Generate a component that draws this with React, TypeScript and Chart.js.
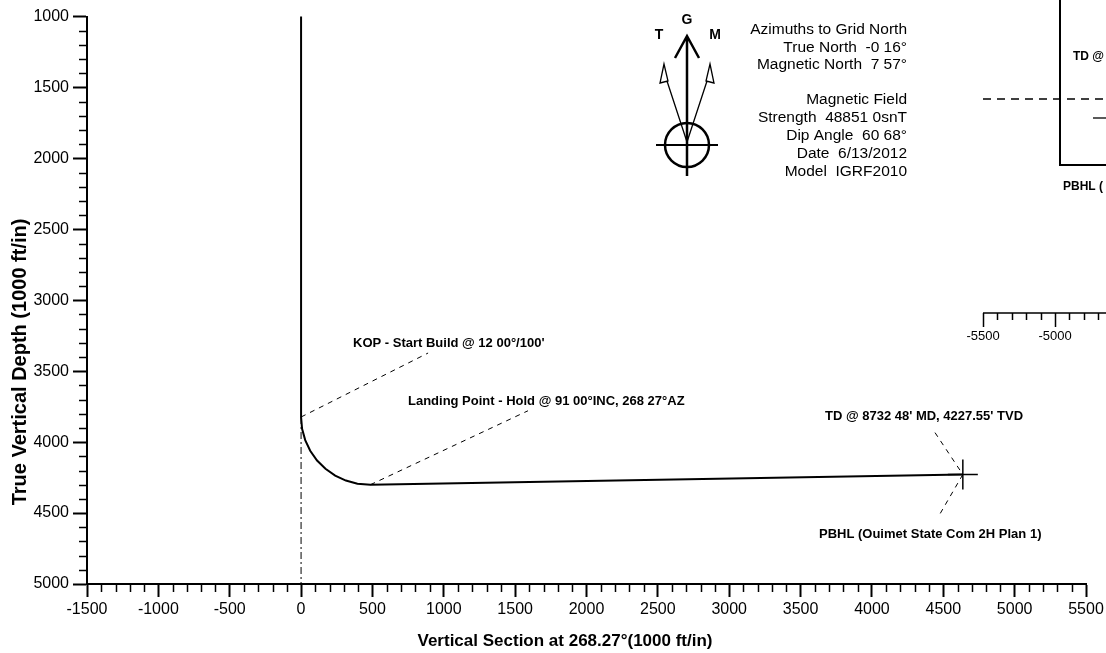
import React, { useEffect, useRef } from "react";
import { Chart, registerables } from "chart.js";

Chart.register(...registerables);

const FONT = '"Liberation Sans", Arial, Helvetica, sans-serif';

// ---- data (vertical section ft, true vertical depth ft) ----
const wellVS = [0, 0, 7, 29, 64, 112, 171, 239, 314, 395, 486, 4637];
const wellTVD = [0, 3823, 3906, 3986, 4061, 4130, 4188, 4236, 4271, 4293, 4300, 4228];

const plumbVS = [0, 0];
const plumbTVD = [3823, 5000];

const kopPoint = [0, 3823];
const landingPoint = [486, 4300];
const tdPoint = [4637, 4228];

// leader ends (data coords)
const leaderFromVS = [kopPoint[0], landingPoint[0], 4442, tdPoint[0]];
const leaderFromTVD = [kopPoint[1], landingPoint[1], 3933, tdPoint[1]];
const leaderToVS = [890, 1590, tdPoint[0], 4463];
const leaderToTVD = [3372, 3779, tdPoint[1], 4530];

const calloutTexts = [
  "KOP - Start Build @ 12 00°/100'",
  "Landing Point - Hold @ 91 00°INC, 268 27°AZ",
  "TD @ 8732 48' MD, 4227.55' TVD",
  "PBHL (Ouimet State Com 2H Plan 1)",
];
const calloutVS = [364, 749, 3671, 3629];
const calloutTVD = [3305, 3714, 3819, 4649];

const xMin = -1500;
const xMax = 5500;
const yMin = 1000;
const yMax = 5000;
const majorStep = 500;
const minorStep = 100;

const xTitle = "Vertical Section at 268.27°(1000 ft/in)";
const yTitle = "True Vertical Depth (1000 ft/in)";

const infoLines = [
  "Azimuths to Grid North",
  "True North  -0 16°",
  "Magnetic North  7 57°",
  "",
  "Magnetic Field",
  "Strength  48851 0snT",
  "Dip Angle  60 68°",
  "Date  6/13/2012",
  "Model  IGRF2010",
];

const insetTickLabels = ["-5500", "-5000"];

function pts(xs: number[], ys: number[]) {
  return xs.map((x, i) => ({ x, y: ys[i] }));
}

const decor = {
  id: "decor",
  afterDraw(chart: any) {
    const ctx: CanvasRenderingContext2D = chart.ctx;
    const xs = chart.scales.x;
    const ys = chart.scales.y;
    const area = chart.chartArea;
    ctx.save();
    ctx.strokeStyle = "#000";
    ctx.fillStyle = "#000";

    // minor ticks
    ctx.lineWidth = 1.5;
    ctx.beginPath();
    for (let v = xMin; v <= xMax; v += minorStep) {
      if (v % majorStep === 0) continue;
      const px = Math.round(xs.getPixelForValue(v)) + 0.5;
      ctx.moveTo(px, area.bottom);
      ctx.lineTo(px, area.bottom + 8);
    }
    for (let v = yMin; v <= yMax; v += minorStep) {
      if (v % majorStep === 0) continue;
      const py = Math.round(ys.getPixelForValue(v)) + 0.5;
      ctx.moveTo(area.left, py);
      ctx.lineTo(area.left - 8, py);
    }
    ctx.stroke();

    // axis titles
    ctx.font = `bold 17px ${FONT}`;
    ctx.textAlign = "center";
    ctx.textBaseline = "middle";
    ctx.fillText(xTitle, 565, 641);
    ctx.save();
    ctx.font = `bold 20px ${FONT}`;
    ctx.translate(20, 362);
    ctx.rotate(-Math.PI / 2);
    ctx.fillText(yTitle, 0, 0);
    ctx.restore();

    // callouts
    ctx.font = `bold 13px ${FONT}`;
    ctx.textAlign = "left";
    calloutTexts.forEach((t, i) => {
      ctx.fillText(t, xs.getPixelForValue(calloutVS[i]), ys.getPixelForValue(calloutTVD[i]));
    });

    // compass
    const cx = 687;
    ctx.lineWidth = 2.5;
    ctx.beginPath();
    ctx.moveTo(cx, 36);
    ctx.lineTo(cx, 176);
    ctx.moveTo(cx - 12, 58);
    ctx.lineTo(cx, 36);
    ctx.lineTo(cx + 12, 58);
    ctx.stroke();
    ctx.beginPath();
    ctx.arc(cx, 145, 22, 0, Math.PI * 2);
    ctx.stroke();
    ctx.lineWidth = 2;
    ctx.beginPath();
    ctx.moveTo(656, 145);
    ctx.lineTo(718, 145);
    ctx.stroke();
    ctx.lineWidth = 1.3;
    ctx.beginPath();
    ctx.moveTo(664, 64);
    ctx.lineTo(660, 83);
    ctx.lineTo(668, 81);
    ctx.closePath();
    ctx.moveTo(667, 81);
    ctx.lineTo(cx, 142);
    ctx.moveTo(710, 64);
    ctx.lineTo(714, 83);
    ctx.lineTo(706, 81);
    ctx.closePath();
    ctx.moveTo(707, 81);
    ctx.lineTo(cx, 142);
    ctx.stroke();
    ctx.font = `bold 14px ${FONT}`;
    ctx.textAlign = "center";
    ctx.fillText("T", 659, 35);
    ctx.fillText("G", 687, 20);
    ctx.fillText("M", 715, 35);

    // info block
    ctx.font = `15.5px ${FONT}`;
    ctx.textAlign = "right";
    const lineY = [30, 48, 65, 83, 100, 118, 136, 154, 172];
    infoLines.forEach((t, i) => {
      if (t) ctx.fillText(t, 907, lineY[i]);
    });

    // inset (plan view, cut off at right)
    ctx.lineWidth = 2;
    ctx.beginPath();
    ctx.moveTo(1060, 0);
    ctx.lineTo(1060, 165);
    ctx.lineTo(1106, 165);
    ctx.stroke();
    ctx.lineWidth = 1.3;
    ctx.setLineDash([8, 6]);
    ctx.beginPath();
    ctx.moveTo(983, 99);
    ctx.lineTo(1106, 99);
    ctx.stroke();
    ctx.setLineDash([]);
    ctx.beginPath();
    ctx.moveTo(1093, 118);
    ctx.lineTo(1106, 118);
    ctx.stroke();
    ctx.font = `bold 12px ${FONT}`;
    ctx.textAlign = "left";
    ctx.fillText("TD @", 1073, 57);
    ctx.fillText("PBHL (", 1063, 187);
    ctx.lineWidth = 1.5;
    ctx.beginPath();
    ctx.moveTo(983, 313);
    ctx.lineTo(1106, 313);
    const step = 72 / 5;
    for (let i = 0; i * step + 983 <= 1106; i++) {
      const px = Math.round(983 + i * step) + 0.5;
      ctx.moveTo(px, 313);
      ctx.lineTo(px, 313 + (i % 5 === 0 ? 14 : 7));
    }
    ctx.stroke();
    ctx.font = `13px ${FONT}`;
    ctx.textAlign = "center";
    insetTickLabels.forEach((t, i) => ctx.fillText(t, 983 + i * 72, 336));

    ctx.restore();
  },
};

export default function App() {
  const ref = useRef<HTMLCanvasElement>(null);
  useEffect(() => {
    const canvas = ref.current!;
    const leaderSets = leaderFromVS.map((_, i) => ({
      data: pts([leaderFromVS[i], leaderToVS[i]], [leaderFromTVD[i], leaderToTVD[i]]),
      showLine: true,
      borderColor: "#000",
      borderWidth: 1,
      borderDash: [5, 5],
      pointRadius: 0,
    }));
    const chart = new Chart(canvas, {
      type: "scatter",
      data: {
        datasets: [
          {
            data: pts(wellVS, wellTVD),
            showLine: true,
            borderColor: "#000",
            borderWidth: 2,
            pointRadius: 0,
            tension: 0,
          } as any,
          {
            data: pts(plumbVS, plumbTVD),
            showLine: true,
            borderColor: "#000",
            borderWidth: 1,
            borderDash: [7, 3, 2, 3],
            pointRadius: 0,
          },
          ...leaderSets,
          {
            data: pts([tdPoint[0]], [tdPoint[1]]),
            showLine: false,
            pointStyle: "cross",
            pointRadius: 15,
            borderColor: "#000",
            borderWidth: 1.5,
            backgroundColor: "#000",
          },
        ],
      },
      options: {
        responsive: false,
        animation: false,
        devicePixelRatio: 1,
        layout: { padding: { top: 14, right: 20, left: 0, bottom: 0 } },
        plugins: { legend: { display: false }, tooltip: { enabled: false } },
        scales: {
          x: {
            type: "linear",
            min: xMin,
            max: xMax,
            position: "bottom",
            ticks: {
              stepSize: majorStep,
              color: "#000",
              font: { family: FONT, size: 16 },
              padding: 3,
              maxRotation: 0,
              autoSkip: false,
              callback: (v: any) => String(v),
            },
            grid: {
              drawOnChartArea: false,
              drawTicks: true,
              tickLength: 13,
              tickColor: "#000",
              tickWidth: 2,
            },
            border: { display: true, color: "#000", width: 2 },
            afterFit: (s: any) => {
              s.height = 69;
              s.paddingLeft = 0;
              s.paddingRight = 0;
            },
          },
          y: {
            type: "linear",
            reverse: true,
            min: yMin,
            max: yMax,
            ticks: {
              stepSize: majorStep,
              color: "#000",
              font: { family: FONT, size: 16 },
              padding: 4,
              autoSkip: false,
              callback: (v: any) => String(v),
            },
            grid: {
              drawOnChartArea: false,
              drawTicks: true,
              tickLength: 14,
              tickColor: "#000",
              tickWidth: 2,
            },
            border: { display: true, color: "#000", width: 2 },
            afterFit: (s: any) => {
              s.width = 87;
              s.paddingTop = 0;
              s.paddingBottom = 0;
            },
          },
        },
      } as any,
      plugins: [decor],
    });
    return () => chart.destroy();
  }, []);
  return (
    <div style={{ position: "fixed", left: 0, top: 0, width: 1106, height: 653, background: "#fff" }}>
      <canvas ref={ref} width={1106} height={653} style={{ display: "block" }} />
    </div>
  );
}
